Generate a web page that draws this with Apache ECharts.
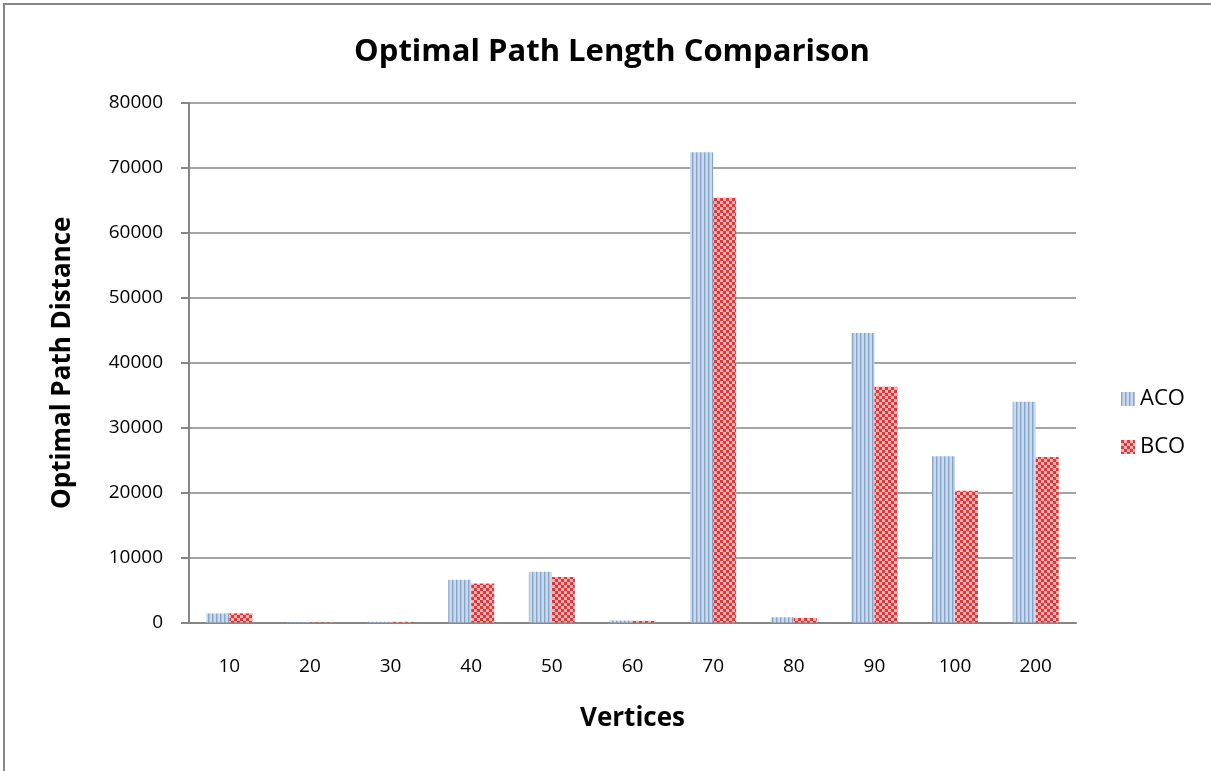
<!DOCTYPE html>
<html><head><meta charset="utf-8">
<script src="https://cdn.jsdelivr.net/npm/echarts@6/dist/echarts.min.js"></script>
<style>html,body{margin:0;padding:0;background:#fff}#c{width:1211px;height:771px}</style>
</head><body><div id="c"></div>
<script>
const categories = ['10','20','30','40','50','60','70','80','90','100','200'];
const acoValues = [1400, 50, 120, 6600, 7800, 300, 72400, 800, 44600, 25600, 34000];
const bcoValues = [1400, 40, 100, 6000, 7000, 250, 65400, 700, 36300, 20300, 25500];
const seriesNames = ['ACO', 'BCO'];

function stripePattern(){
  const c = document.createElement('canvas'); c.width = 4; c.height = 4;
  const g = c.getContext('2d');
  g.fillStyle = '#c9daee'; g.fillRect(0,0,4,4);
  g.fillStyle = '#86a3c8'; g.fillRect(0,0,1,4);
  g.fillStyle = '#afc5df'; g.fillRect(1,0,1,4);
  return c;
}
function checkPattern(){
  const c = document.createElement('canvas'); c.width = 6; c.height = 6;
  const g = c.getContext('2d');
  g.fillStyle = '#f6b3b1'; g.fillRect(0,0,6,6);
  g.fillStyle = '#e0373c'; g.fillRect(0,0,3,3); g.fillRect(3,3,3,3);
  return c;
}
const acoFill = {image: stripePattern(), repeat: 'repeat'};
const bcoFill = {image: checkPattern(), repeat: 'repeat'};

const font = '"Open Sans", "Noto Sans", sans-serif';
const chart = echarts.init(document.getElementById('c'), null, {renderer: 'canvas'});
chart.setOption({
  animation: false,
  backgroundColor: '#fff',
  title: {text: 'Optimal Path Length Comparison', left: 607, top: 32, textAlign: 'center',
    textStyle: {fontFamily: font, fontWeight: 'bold', fontSize: 31, color: '#000'}},
  grid: {left: 189, right: 135, top: 103, bottom: 148.5, containLabel: false},
  legend: {orient: 'vertical', left: 1116, top: 383, itemGap: 26, itemWidth: 14, itemHeight: 14,
    textStyle: {fontFamily: font, fontSize: 22, color: '#000'},
    data: [{name: 'ACO', icon: 'rect'}, {name: 'BCO', icon: 'rect'}]},
  xAxis: {type: 'category', data: categories,
    name: 'Vertices', nameLocation: 'middle', nameGap: 83,
    nameTextStyle: {fontFamily: font, fontWeight: 'bold', fontSize: 26, color: '#000'},
    axisLine: {lineStyle: {color: '#868686', width: 2}},
    axisTick: {show: false},
    axisLabel: {fontFamily: font, fontSize: 19, color: '#000', margin: 35}},
  yAxis: {type: 'value', min: 0, max: 80000, interval: 10000,
    name: 'Optimal Path Distance', nameLocation: 'middle', nameGap: 113,
    nameTextStyle: {fontFamily: font, fontWeight: 'bold', fontSize: 26, color: '#000'},
    axisLine: {show: true, lineStyle: {color: '#868686', width: 2}},
    axisTick: {show: true, length: 8, lineStyle: {color: '#868686', width: 2}},
    axisLabel: {fontFamily: font, fontSize: 19, color: '#000', margin: 26,
      formatter: v => String(v)},
    splitLine: {lineStyle: {color: '#868686', width: 1.5}}},
  series: [
    {name: seriesNames[0], type: 'bar', data: acoValues, barWidth: 23, barGap: '0%',
     itemStyle: {color: acoFill}},
    {name: seriesNames[1], type: 'bar', data: bcoValues, barWidth: 23, barGap: '0%',
     itemStyle: {color: bcoFill}}
  ],
  graphic: [{type: 'polyline', shape: {points: [[4, 790], [4, 4], [1230, 4]]},
    style: {fill: null, stroke: '#878787', lineWidth: 2}, silent: true}]
});
</script></body></html>
